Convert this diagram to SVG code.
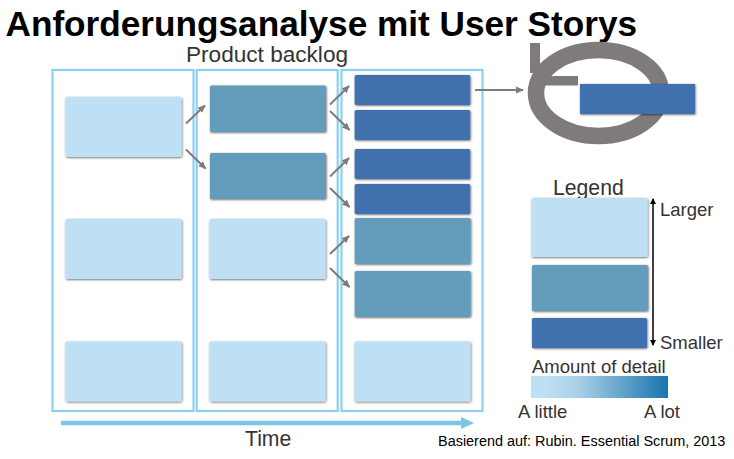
<svg xmlns="http://www.w3.org/2000/svg" width="734" height="459" viewBox="0 0 734 459">
<style>
text{font-family:"Liberation Sans",Arial,sans-serif;fill:#333}
.frame{fill:#fff;stroke:#8ccfee;stroke-width:2.2}
.light{fill:#bee0f4;filter:url(#sh)}
.mid{fill:#649dbb;filter:url(#sh)}
.dark{fill:#406fae;filter:url(#sh)}
.arr{fill:none;stroke:#7f7b7a;stroke-width:2;marker-end:url(#ah)}
.t20{font-size:21.2px}
.t18{font-size:18.5px}
</style>
<defs>
<marker id="ah" markerWidth="8" markerHeight="8" refX="7" refY="4" orient="auto" markerUnits="userSpaceOnUse" viewBox="0 0 8 8"><path d="M0 0.500L8 4L0 7.500Z" fill="#7f7b7a"/></marker>
<marker id="bk" markerWidth="6" markerHeight="7" refX="5" refY="3" orient="auto-start-reverse" markerUnits="userSpaceOnUse" viewBox="0 0 6 6"><path d="M0 0L6 3L0 6Z" fill="#000"/></marker>
<filter id="sh" x="-5%" y="-8%" width="110%" height="116%"><feDropShadow dx="0.6" dy="0.8" stdDeviation="1" flood-color="#000" flood-opacity="0.6"/></filter>
<linearGradient id="gr"><stop offset="0.1" stop-color="#bee0f4"/><stop offset="0.35" stop-color="#a9cfe6"/><stop offset="1" stop-color="#1a74b0"/></linearGradient>
</defs>
<rect width="734" height="459" fill="#fff"/>
<text id="title" x="5.500" y="36" style="font-size:35.2px;font-weight:bold;fill:#000">Anforderungsanalyse mit User Storys</text>
<text x="186" y="62" style="font-size:22.600px">Product backlog</text>
<g id="frames">
<rect class="frame" x="52.5" y="70" width="141" height="341"/>
<rect class="frame" x="196.7" y="70" width="141" height="341"/>
<rect class="frame" x="341.5" y="70" width="141" height="341"/>
</g>
<g id="col1">
<rect id="a1" class="light" x="65.500" y="97" width="116" height="60" rx="1.5"/>
<rect id="a2" class="light" x="65.500" y="219" width="116" height="60" rx="1.5"/>
<rect id="a3" class="light" x="65.500" y="341.500" width="116" height="60" rx="1.5"/>
</g>
<g id="col2">
<rect id="b1" class="mid" x="210" y="85.500" width="116" height="46.500" rx="1.5"/>
<rect id="b2" class="mid" x="210" y="153" width="116" height="46" rx="1.500"/>
<rect id="b3" class="light" x="209.500" y="219" width="116" height="60" rx="1.5"/>
<rect id="b4" class="light" x="209.500" y="341.500" width="116" height="60" rx="1.5"/>
</g>
<g id="col3">
<rect id="c1" class="dark" x="354.700" y="75" width="115.500" height="30" rx="1.5"/>
<rect id="c2" class="dark" x="354.700" y="110" width="115.500" height="30" rx="1.5"/>
<rect id="c3" class="dark" x="354.700" y="149" width="115.500" height="30" rx="1.5"/>
<rect id="c4" class="dark" x="354.700" y="184" width="115.500" height="30" rx="1.5"/>
<rect id="c5" class="mid" x="354.700" y="218" width="116" height="46" rx="1.5"/>
<rect id="c6" class="mid" x="354.700" y="271" width="116" height="46" rx="1.5"/>
<rect id="c7" class="light" x="354.500" y="341.500" width="116" height="60" rx="1.5"/>
</g>
<g id="connectors">
<path class="arr" d="M186 123.500L205 105.500"/>
<path class="arr" d="M186 149.500L205.500 168.500"/>
<path class="arr" d="M330 104.500L349 86"/>
<path class="arr" d="M330 111L349.500 130"/>
<path class="arr" d="M330 176.500L349 158"/>
<path class="arr" d="M330 188L349.500 207"/>
<path class="arr" d="M330 254L349 236"/>
<path class="arr" d="M330 268L349.500 287"/>
<path class="arr" d="M475 90H523"/>
</g>
<g id="loop">
<ellipse cx="598.500" cy="93" rx="62.500" ry="43" fill="none" stroke="#7f7b7a" stroke-width="16.500"/>
<rect x="530" y="43" width="10" height="30" fill="#7f7b7a"/>
<rect x="540" y="76" width="38" height="9.500" fill="#7f7b7a"/>
<rect id="loopbox" class="dark" x="580" y="84" width="115" height="30"/>
</g>
<g id="legend">
<text x="553" y="194.500" class="t20">Legend</text>
<rect id="l1" class="light" x="531.500" y="198" width="116" height="59" rx="1.5"/>
<rect id="l2" class="mid" x="532" y="265" width="116" height="46" rx="1.5"/>
<rect id="l3" class="dark" x="532" y="318" width="115" height="30" rx="1.5"/>
<path d="M653 199V345" fill="none" stroke="#000" stroke-width="1.5" marker-start="url(#bk)" marker-end="url(#bk)"/>
<text x="660" y="216" class="t18">Larger</text>
<text x="660" y="349" class="t18">Smaller</text>
<text x="532" y="373" class="t18">Amount of detail</text>
<rect x="531" y="376" width="137" height="22" fill="url(#gr)"/>
<text x="518" y="418" class="t18">A little</text>
<text x="644" y="418" class="t18">A lot</text>
</g>
<g id="time">
<path d="M61 423H462" stroke="#7cc4e8" stroke-width="4.500" fill="none"/>
<path d="M461 417L474 423L461 429Z" fill="#7cc4e8"/>
<text x="245" y="445.500" class="t20">Time</text>
</g>
<text x="438" y="446" style="font-size:14.45px;fill:#000">Basierend auf: Rubin. Essential Scrum, 2013</text>
</svg>
